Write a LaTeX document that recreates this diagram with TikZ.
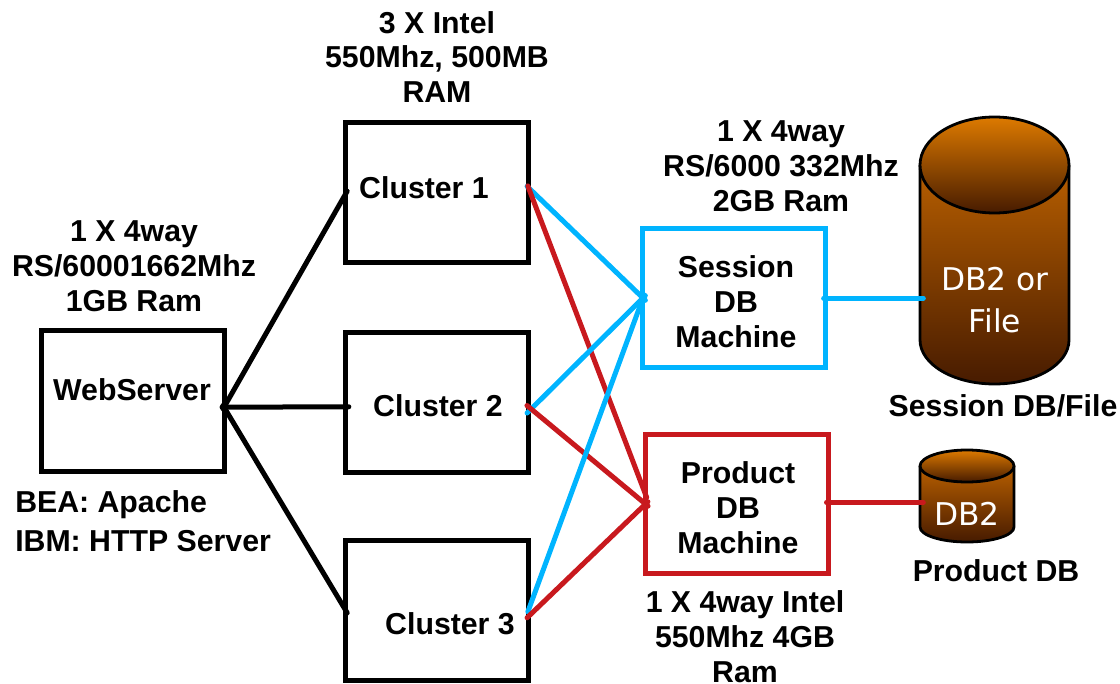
\documentclass[tikz,border=0pt]{standalone}
\usepackage{fontspec}
\setmainfont{Liberation Sans}
\newfontfamily\dbfont{DejaVu Sans}
\definecolor{skyline}{HTML}{00B4FF}
\definecolor{redline}{HTML}{C8191E}
\definecolor{dbtop}{HTML}{DD7A00}
\definecolor{dbmid}{HTML}{B85F00}
\definecolor{dbdark}{HTML}{471B00}
\tikzset{
  px/.style={x=0.75pt,y=-0.75pt},
  boxbase/.style={draw,rectangle,inner sep=0pt,outer sep=0pt,line width=3.75pt,miter limit=10},
  blackbox/.style={boxbase,draw=black},
  bluebox/.style={boxbase,draw=skyline},
  redbox/.style={boxbase,draw=redline},
  lab/.style={font=\bfseries\fontsize{22.7}{26.2}\selectfont,align=center,inner sep=0pt,text=black},
  dblab/.style={font=\dbfont\fontsize{23.5}{31.5}\selectfont,align=center,inner sep=0pt,text=white},
  wire/.style={line width=3.75pt,line cap=round,shorten <=-1.5pt,shorten >=-2.5pt},
  blackline/.style={wire,draw=black},
  blueline/.style={wire,draw=skyline},
  redline/.style={wire,draw=redline},
  dbedge/.style={line width=2.1pt,draw=black},
  dbbody/.style={top color=dbmid,bottom color=dbdark},
  dbcap/.style={top color=dbtop,bottom color=dbdark},
  anchorbox/.style={rectangle,inner sep=0pt,outer sep=0pt}
}
\begin{document}
\begin{tikzpicture}[px]
\useasboundingbox (0,0) rectangle (1120,684);
% boxes
\node[blackbox,minimum width=137.25pt,minimum height=105pt] (c1) at (437,192.5) {};
\node[blackbox,minimum width=137.25pt,minimum height=105pt] (c2) at (437,402) {};
\node[blackbox,minimum width=137.25pt,minimum height=105pt] (c3) at (437,610) {};
\node[blackbox,minimum width=137pt,minimum height=105.4pt] (web) at (132.7,400.8) {};
\node[bluebox,minimum width=137pt,minimum height=104.25pt] (sess) at (734.3,298) {};
\node[redbox,minimum width=137.25pt,minimum height=104.25pt] (prod) at (737,504) {};
% database shapes
\path[dbbody] (920,165) -- (920,340) arc[start angle=180,end angle=360,x radius=74.5,y radius=-44] -- (1069,165) -- cycle;
\draw[dbedge] (920,165) -- (920,340) arc[start angle=180,end angle=360,x radius=74.5,y radius=-44] -- (1069,165);
\path[dbcap] (994.5,165) ellipse[x radius=74.5,y radius=48];
\draw[dbedge] (994.5,165) ellipse[x radius=74.5,y radius=48];
\path[dbbody] (920,466) -- (920,527) arc[start angle=180,end angle=360,x radius=47,y radius=-15] -- (1014,466) -- cycle;
\draw[dbedge] (920,466) -- (920,527) arc[start angle=180,end angle=360,x radius=47,y radius=-15] -- (1014,466);
\path[dbcap] (967,466) ellipse[x radius=47,y radius=16];
\draw[dbedge] (967,466) ellipse[x radius=47,y radius=16];
\node[anchorbox,minimum width=111.75pt,minimum height=200pt] (db1) at (994.5,250.5) {};
\node[anchorbox,minimum width=70.5pt,minimum height=69pt] (db2) at (967,496) {};
% connectors
\draw[blackline] (web.-4.5) -- (c1.181);
\draw[blackline] (web.-4.5) -- (c2.183.7);
\draw[blackline] (web.-4.5) -- (c3.west);
\draw[blueline] (c1.3.4) -- (sess.west);
\draw[redline] (c1.3.4) -- (prod.174.4);
\draw[blueline] (c2.-6) -- (sess.west);
\draw[redline] (c2.-3.7) -- (prod.west);
\draw[blueline] (c3.east) -- (sess.west);
\draw[redline] (c3.-4) -- (prod.west);
\draw[blueline] (sess.east) -- (db1.west |- sess.east);
\draw[redline] (prod.1.3) -- (db2.west |- prod.1.3);
% labels
\node[lab] (t1) at (437,57) {3 X Intel\\550Mhz, 500MB\\RAM};
\node[lab] (t2) at (134,266) {1 X 4way\\RS/60001662Mhz\\1GB Ram};
\node[lab] (t3) at (781,166) {1 X 4way\\RS/6000 332Mhz\\2GB Ram};
\node[lab] (t4) at (745,636.5) {1 X 4way Intel\\550Mhz 4GB\\Ram};
\node[lab,anchor=base west] (t5) at (15,512) {BEA: Apache};
\node[lab,anchor=base west] (t6) at (15,551) {IBM: HTTP Server};
\node[lab] (l1) at (424,188) {Cluster 1};
\node[lab] (l2) at (438,406) {Cluster 2};
\node[lab] (l3) at (450,624) {Cluster 3};
\node[lab] (l4) at (132,390) {WebServer};
\node[lab] (l5) at (736,302) {Session\\DB\\Machine};
\node[lab] (l6) at (738,508) {Product\\DB\\Machine};
\node[lab,anchor=base] (l7) at (1003,416) {Session DB/File};
\node[lab,anchor=base] (l8) at (996,581) {Product DB};
\node[dblab] (d1) at (995,300) {DB2 or\\File};
\node[dblab] (d2) at (967,514) {DB2};
\end{tikzpicture}
\end{document}
